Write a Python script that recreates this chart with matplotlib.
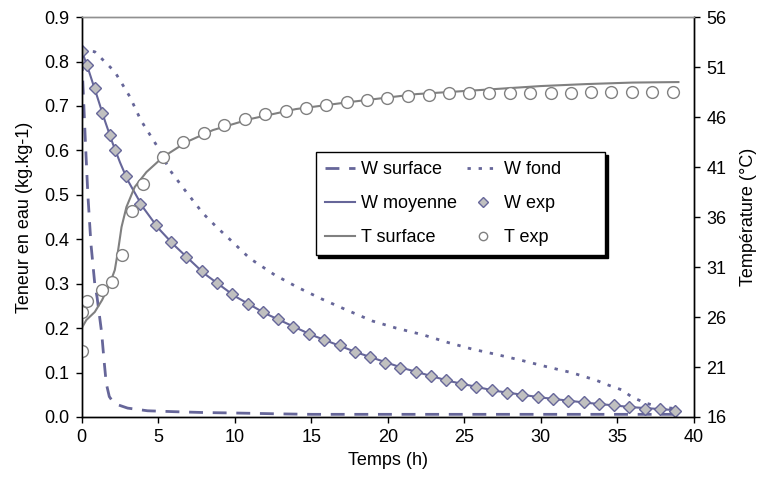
import numpy as np
import matplotlib
matplotlib.use('Agg')
import matplotlib.pyplot as plt
from matplotlib.lines import Line2D

plt.rcParams['font.family'] = ['Liberation Sans', 'DejaVu Sans']
plt.rcParams['font.size'] = 13

# W exp (kg/kg)
t_wexp = [0, 0.35, 0.85, 1.33, 1.83, 2.18, 2.86, 3.84, 4.84, 5.82, 6.8, 7.83, 8.85,
          9.85, 10.85, 11.85, 12.85, 13.8, 14.84, 15.84, 16.86, 17.84, 18.84, 19.82,
          20.83, 21.83, 22.8, 23.8, 24.8, 25.8, 26.8, 27.8, 28.8, 29.8, 30.8, 31.8,
          32.8, 33.8, 34.8, 35.8, 36.8, 37.8, 38.8]
w_exp = [0.824, 0.793, 0.740, 0.685, 0.634, 0.601, 0.542, 0.479, 0.431, 0.394, 0.359,
         0.329, 0.301, 0.276, 0.255, 0.236, 0.220, 0.203, 0.187, 0.173, 0.161, 0.146,
         0.134, 0.122, 0.111, 0.101, 0.092, 0.083, 0.074, 0.067, 0.061, 0.055, 0.050,
         0.046, 0.041, 0.037, 0.033, 0.029, 0.026, 0.023, 0.019, 0.017, 0.014]

# W moyenne
t_wmoy = [0, 0.5, 1, 1.5, 2, 2.5, 3, 4, 5, 6, 8, 10, 12, 15, 18, 21, 24, 27, 30, 33, 36, 39]
w_moy = [0.825, 0.775, 0.722, 0.668, 0.618, 0.573, 0.533, 0.472, 0.425, 0.388, 0.323,
         0.272, 0.233, 0.185, 0.145, 0.110, 0.081, 0.059, 0.044, 0.032, 0.022, 0.015]

# W surface
t_wsurf = [0, 0.1, 0.25, 0.4, 0.6, 0.85, 1.0, 1.3, 1.45, 1.6, 1.8, 2.0, 2.4, 3.0, 4.3,
           6, 8, 10, 13, 15, 20, 25, 30, 35, 39]
w_surf = [0.81, 0.73, 0.61, 0.50, 0.39, 0.30, 0.27, 0.19, 0.13, 0.076, 0.046, 0.036,
          0.027, 0.020, 0.014, 0.012, 0.010, 0.009, 0.007, 0.006, 0.006, 0.006, 0.006,
          0.006, 0.006]

# W fond
t_wfond = [0, 0.85, 2.16, 3.14, 3.86, 4.88, 5.75, 6.73, 7.93, 8.8, 9.67, 10.98, 12.6,
           14.1, 15.66, 17.3, 19.0, 20.56, 22.3, 23.9, 25.5, 27.2, 28.8, 30.4, 32.0,
           33.6, 34.4, 35.3, 36.0, 36.9, 37.7, 38.5, 39]
w_fond = [0.825, 0.822, 0.777, 0.721, 0.668, 0.612, 0.556, 0.511, 0.458, 0.428, 0.400,
          0.357, 0.320, 0.292, 0.266, 0.241, 0.216, 0.200, 0.185, 0.168, 0.153, 0.140,
          0.127, 0.113, 0.100, 0.083, 0.072, 0.061, 0.044, 0.031, 0.023, 0.020, 0.018]

# T surface (degC)
t_tsurf = [0, 0.3, 0.85, 1.33, 1.8, 2.16, 2.37, 2.6, 2.92, 3.46, 4.23, 5.31, 6.84, 8.58,
           11.0, 14, 17.5, 21.9, 26, 30, 33, 36, 39]
T_surf = [24.9, 25.7, 26.5, 27.7, 29.2, 30.7, 32.6, 35.0, 37.0, 39.0, 40.5, 42.0, 43.5,
          44.7, 45.8, 46.8, 47.5, 48.3, 48.7, 49.1, 49.3, 49.45, 49.5]

# T exp
t_texp = [0, 0, 0.35, 1.33, 1.98, 2.63, 3.29, 4.0, 5.34, 6.65, 7.97, 9.32, 10.65, 11.98,
          13.33, 14.66, 15.99, 17.32, 18.65, 19.98, 21.33, 22.68, 23.99, 25.3, 26.65,
          27.99, 29.32, 30.65, 31.98, 33.3, 34.6, 35.97, 37.3, 38.65]
T_exp = [26.5, 22.6, 27.6, 28.7, 29.5, 32.2, 36.6, 39.3, 42.0, 43.5, 44.4, 45.2, 45.8,
         46.3, 46.6, 46.9, 47.2, 47.5, 47.7, 47.9, 48.1, 48.2, 48.4, 48.4, 48.4, 48.4,
         48.4, 48.4, 48.4, 48.5, 48.5, 48.5, 48.5, 48.5]

cw = '#666699'
ct = '#808080'

fig = plt.figure(figsize=(7.64, 4.88), dpi=100)
ax = fig.add_axes([0.107, 0.1455, 0.801, 0.8195])
ax2 = ax.twinx()

ax.plot(t_wsurf, w_surf, color=cw, lw=2, dashes=(5, 3.5))
ax.plot(t_wfond, w_fond, color=cw, lw=2, dashes=(1.2, 2.8))
ax.plot(t_wmoy, w_moy, color=cw, lw=1.5)
ax.plot(t_wexp, w_exp, ls='none', marker='D', ms=6.5, mfc='#c0c0c0', mec=cw, mew=1)

ax2.plot(t_tsurf, T_surf, color=ct, lw=1.5)
ax2.plot(t_texp, T_exp, ls='none', marker='o', ms=8.5, mfc='white', mec=ct, mew=1)

ax.set_xlim(0, 40)
ax.set_ylim(0, 0.9)
ax2.set_ylim(16, 56)
ax.set_xticks(np.arange(0, 41, 5))
ax.set_yticks(np.arange(0, 0.91, 0.1))
ax.set_yticklabels(['%.1f' % v for v in np.arange(0, 0.91, 0.1)])
ax2.set_yticks(np.arange(16, 57, 5))

for a in (ax, ax2):
    a.tick_params(direction='out', length=4, width=1, colors='black', pad=5)
    for s in a.spines.values():
        s.set_color('black')
        s.set_linewidth(1)
    a.spines['top'].set_color('#909090')

ax.set_xlabel('Temps (h)', labelpad=4)
ax.set_ylabel('Teneur en eau (kg.kg-1)', labelpad=8)
ax2.set_ylabel('Température (°C)', labelpad=10)

handles = [
    Line2D([], [], color=cw, lw=2, dashes=(5, 3.5)),
    Line2D([], [], color=cw, lw=1.5),
    Line2D([], [], color=ct, lw=1.5),
    Line2D([], [], color=cw, lw=2, dashes=(1.2, 2.8)),
    Line2D([], [], ls='none', marker='D', ms=5, mfc='#c0c0c0', mec=cw),
    Line2D([], [], ls='none', marker='o', ms=6, mfc='white', mec=ct),
]
# trailing spaces widen the second column like the original legend box
labels = ['W surface', 'W moyenne', 'T surface', 'W fond' + ' ' * 7, 'W exp', 'T exp']
leg = ax2.legend(handles, labels, ncol=2, loc='upper left', bbox_to_anchor=(0.382, 0.6625),
                 borderaxespad=0, fancybox=False, shadow={'color': 'black', 'alpha': 1},
                 edgecolor='black', framealpha=1, handlelength=1.7, columnspacing=0.6,
                 labelspacing=0.95, handletextpad=0.3, borderpad=0.5)
leg.get_frame().set_linewidth(1)

fig.savefig('out.png', dpi=100)
